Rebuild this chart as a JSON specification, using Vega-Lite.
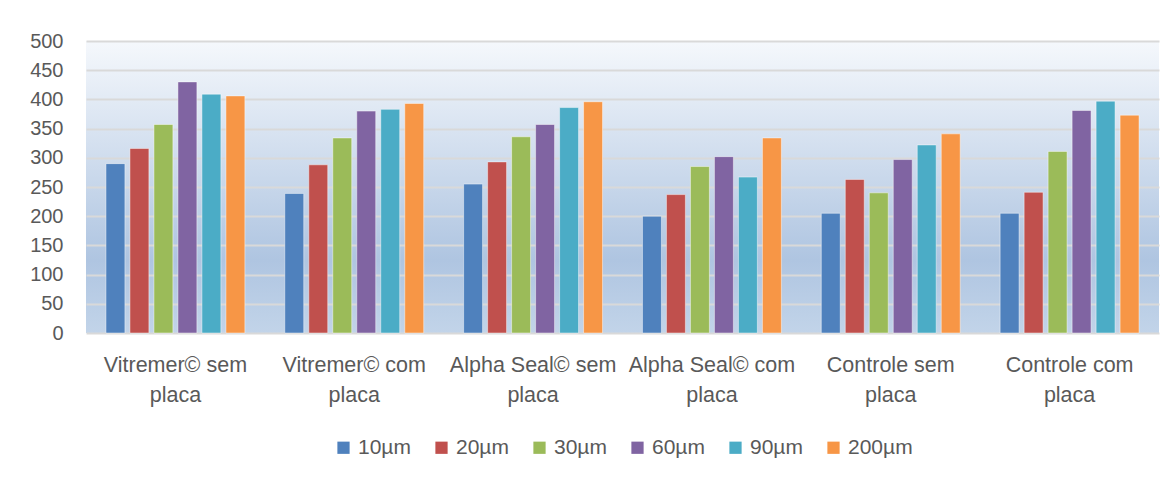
{
  "$schema": "https://vega.github.io/schema/vega-lite/v6.json",
  "width": 1073,
  "height": 292,
  "padding": {"left": 29, "top": 31, "right": 15, "bottom": 10},
  "background": "white",
  "data": {
    "values": [
      {"grupo": "Vitremer© sem placa", "serie": "10µm", "valor": 290},
      {"grupo": "Vitremer© sem placa", "serie": "20µm", "valor": 316},
      {"grupo": "Vitremer© sem placa", "serie": "30µm", "valor": 357},
      {"grupo": "Vitremer© sem placa", "serie": "60µm", "valor": 430},
      {"grupo": "Vitremer© sem placa", "serie": "90µm", "valor": 409},
      {"grupo": "Vitremer© sem placa", "serie": "200µm", "valor": 406},
      {"grupo": "Vitremer© com placa", "serie": "10µm", "valor": 239},
      {"grupo": "Vitremer© com placa", "serie": "20µm", "valor": 288},
      {"grupo": "Vitremer© com placa", "serie": "30µm", "valor": 334},
      {"grupo": "Vitremer© com placa", "serie": "60µm", "valor": 380},
      {"grupo": "Vitremer© com placa", "serie": "90µm", "valor": 383},
      {"grupo": "Vitremer© com placa", "serie": "200µm", "valor": 393},
      {"grupo": "Alpha Seal© sem placa", "serie": "10µm", "valor": 255},
      {"grupo": "Alpha Seal© sem placa", "serie": "20µm", "valor": 293},
      {"grupo": "Alpha Seal© sem placa", "serie": "30µm", "valor": 336},
      {"grupo": "Alpha Seal© sem placa", "serie": "60µm", "valor": 357},
      {"grupo": "Alpha Seal© sem placa", "serie": "90µm", "valor": 386},
      {"grupo": "Alpha Seal© sem placa", "serie": "200µm", "valor": 396},
      {"grupo": "Alpha Seal© com placa", "serie": "10µm", "valor": 200},
      {"grupo": "Alpha Seal© com placa", "serie": "20µm", "valor": 237},
      {"grupo": "Alpha Seal© com placa", "serie": "30µm", "valor": 285},
      {"grupo": "Alpha Seal© com placa", "serie": "60µm", "valor": 302},
      {"grupo": "Alpha Seal© com placa", "serie": "90µm", "valor": 267},
      {"grupo": "Alpha Seal© com placa", "serie": "200µm", "valor": 334},
      {"grupo": "Controle sem placa", "serie": "10µm", "valor": 205},
      {"grupo": "Controle sem placa", "serie": "20µm", "valor": 263},
      {"grupo": "Controle sem placa", "serie": "30µm", "valor": 240},
      {"grupo": "Controle sem placa", "serie": "60µm", "valor": 297},
      {"grupo": "Controle sem placa", "serie": "90µm", "valor": 322},
      {"grupo": "Controle sem placa", "serie": "200µm", "valor": 341},
      {"grupo": "Controle com placa", "serie": "10µm", "valor": 205},
      {"grupo": "Controle com placa", "serie": "20µm", "valor": 241},
      {"grupo": "Controle com placa", "serie": "30µm", "valor": 311},
      {"grupo": "Controle com placa", "serie": "60µm", "valor": 381},
      {"grupo": "Controle com placa", "serie": "90µm", "valor": 397},
      {"grupo": "Controle com placa", "serie": "200µm", "valor": 373}
    ]
  },
  "mark": {"type": "bar", "stroke": "white", "strokeOpacity": 0.45, "strokeWidth": 1},
  "encoding": {
    "x": {
      "field": "grupo",
      "type": "nominal",
      "sort": null,
      "scale": {"paddingInner": 0.195, "paddingOuter": 0.0975},
      "axis": {
        "title": null,
        "labelAngle": 0,
        "labelExpr": "[slice(datum.label, 0, -6), 'placa']",
        "labelLineHeight": 30,
        "labelPadding": 21,
        "labelFontSize": 21.5,
        "ticks": false,
        "domain": false,
        "grid": false
      }
    },
    "xOffset": {
      "field": "serie",
      "type": "nominal",
      "sort": ["10µm", "20µm", "30µm", "60µm", "90µm", "200µm"],
      "scale": {"paddingInner": 0.21, "paddingOuter": 0.105}
    },
    "y": {
      "field": "valor",
      "type": "quantitative",
      "scale": {"domain": [0, 500], "nice": false},
      "axis": {
        "title": null,
        "values": [0, 50, 100, 150, 200, 250, 300, 350, 400, 450, 500],
        "ticks": false,
        "domain": false,
        "labelPadding": 23,
        "gridColor": "#d9d9d9",
        "gridWidth": 2
      }
    },
    "color": {
      "field": "serie",
      "type": "nominal",
      "sort": ["10µm", "20µm", "30µm", "60µm", "90µm", "200µm"],
      "scale": {
        "domain": ["10µm", "20µm", "30µm", "60µm", "90µm", "200µm"],
        "range": ["#4f81bd", "#c0504d", "#9bbb59", "#8064a2", "#4bacc6", "#f79646"]
      },
      "legend": {
        "title": null,
        "orient": "bottom",
        "direction": "horizontal",
        "columns": 6,
        "symbolType": "square",
        "symbolSize": 150,
        "symbolStrokeWidth": 0,
        "labelFontSize": 21,
        "labelColor": "#595959",
        "labelFont": "Liberation Sans",
        "columnPadding": 20,
        "symbolOffset": 0,
        "offset": 31
      }
    }
  },
  "config": {
    "legend": {"layout": {"bottom": {"anchor": "middle"}}},
    "view": {
      "stroke": null,
      "fill": {
        "gradient": "linear",
        "x1": 0, "y1": 0, "x2": 0, "y2": 1,
        "stops": [
          {"offset": 0, "color": "#f5f8fc"},
          {"offset": 0.75, "color": "#afc5e1"},
          {"offset": 1, "color": "#c2d4e9"}
        ]
      }
    },
    "axis": {
      "labelFont": "Liberation Sans",
      "labelFontSize": 20,
      "labelColor": "#595959"
    }
  }
}
